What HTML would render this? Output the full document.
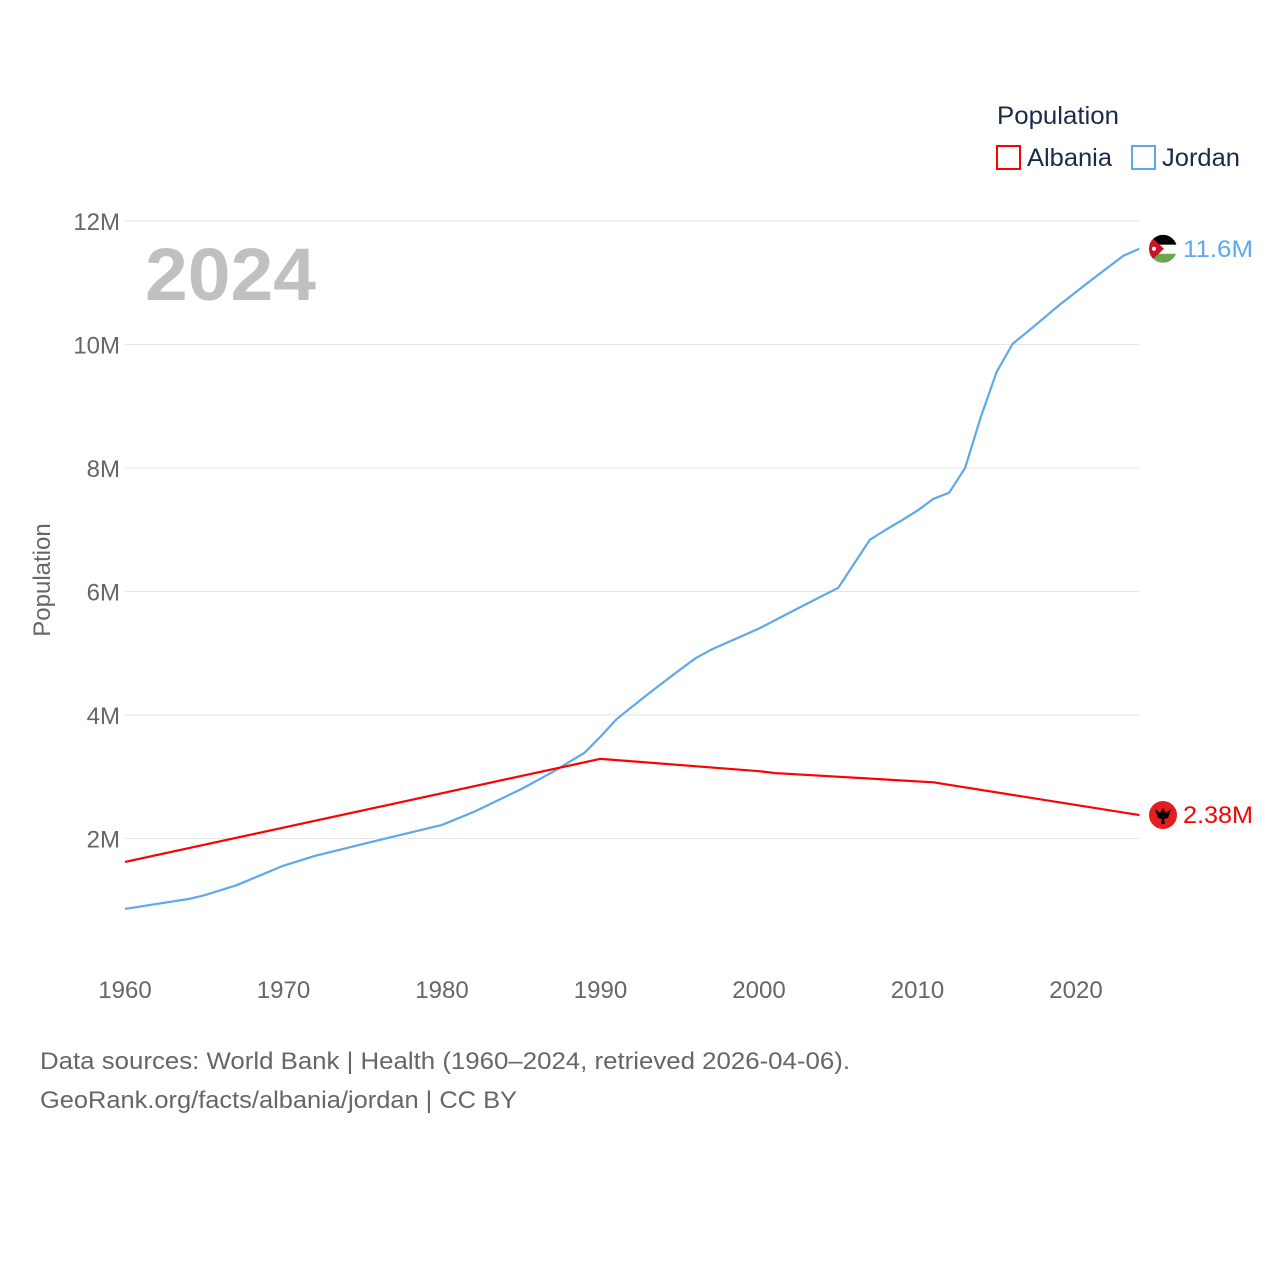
<!DOCTYPE html>
<html><head><meta charset="utf-8"><style>
body{margin:0;background:#fff;font-family:"Liberation Sans",sans-serif}
svg text{font-family:"Liberation Sans",sans-serif}
</style></head><body>
<svg id="chart" width="1280" height="1280" viewBox="0 0 1280 1280">
<text x="997" y="124" font-size="25" fill="#1a2b4a" textLength="122" lengthAdjust="spacingAndGlyphs">Population</text>
<g><rect x="997" y="146" width="23" height="23" fill="none" stroke="#ff0000" stroke-width="2"/><text x="1027" y="166" font-size="25" fill="#1a2b4a" textLength="85" lengthAdjust="spacingAndGlyphs">Albania</text></g>
<g><rect x="1132" y="146" width="23" height="23" fill="none" stroke="#5ea8ec" stroke-width="2"/><text x="1162" y="166" font-size="25" fill="#1a2b4a" textLength="78" lengthAdjust="spacingAndGlyphs">Jordan</text></g>
<text x="145" y="300" font-size="74" font-weight="bold" fill="#c0c0c0" textLength="171" lengthAdjust="spacingAndGlyphs">2024</text>
<text transform="translate(50,580) rotate(-90)" text-anchor="middle" font-size="24" fill="#666">Population</text>
<g id="grid"></g><g id="series"></g>
<text x="40" y="1069" font-size="24" fill="#666" textLength="810" lengthAdjust="spacingAndGlyphs">Data sources: World Bank | Health (1960–2024, retrieved 2026-04-06).</text>
<text x="40" y="1108" font-size="24" fill="#666" textLength="477" lengthAdjust="spacingAndGlyphs">GeoRank.org/facts/albania/jordan | CC BY</text>
</svg>
<script>
const yTicks=[2,4,6,8,10,12];
const xTicks=[1960,1970,1980,1990,2000,2010,2020];
const albYears=[1960,1990,2000,2001,2011,2024];
const albVals=[1.62,3.29,3.09,3.06,2.91,2.38];
const jorYears=[1960,1962,1964,1965,1967,1970,1972,1975,1980,1982,1985,1987,1989,1990,1991,1993,1995,1996,1997,2000,2003,2005,2007,2008,2009,2010,2011,2012,2013,2014,2015,2016,2017,2019,2021,2023,2024];
const jorVals=[0.86,0.94,1.02,1.08,1.24,1.56,1.72,1.91,2.22,2.43,2.80,3.08,3.39,3.65,3.93,4.34,4.73,4.92,5.06,5.40,5.80,6.06,6.84,7.00,7.15,7.31,7.50,7.60,8.00,8.83,9.56,10.01,10.22,10.65,11.05,11.44,11.55];
const NS="http://www.w3.org/2000/svg";
const X=y=>125+(y-1960)*(1076-125)/60;
const Y=v=>962-v*61.75;
const grid=document.getElementById('grid'),ser=document.getElementById('series');
function mk(t,a,p){const e=document.createElementNS(NS,t);for(const k in a)e.setAttribute(k,a[k]);p.appendChild(e);return e;}
yTicks.forEach(v=>{
 const l=mk('line',{x1:125,x2:1139,y1:Y(v),y2:Y(v),stroke:'#e6e6e6','stroke-width':1},grid);
 
 
 const t=mk('text',{x:120,y:Y(v)+9,'text-anchor':'end','font-size':24,fill:'#666'},grid);t.textContent=v+'M';
 
 
});
xTicks.forEach(y=>{
 const t=mk('text',{x:X(y),y:998,'text-anchor':'middle','font-size':24,fill:'#666'},grid);t.textContent=y;
 
 
});
function line(ys,vs,c,n){
 const p=mk('polyline',{points:ys.map((y,i)=>X(y)+','+Y(vs[i])).join(' '),fill:'none',stroke:c,'stroke-width':2.2,'stroke-linejoin':'round'},ser);
 
 
}
line(jorYears,jorVals,'#5ea8ec','jordan-line');
line(albYears,albVals,'#ff0000','albania-line');
const jy=Y(jorVals[jorVals.length-1]),ay=Y(albVals[albVals.length-1]);
const fj=mk('g',{},ser);


mk('clipPath',{id:'cj'},fj).appendChild(document.createElementNS(NS,'circle')).setAttribute('r',14);
document.querySelector('#cj circle').setAttribute('cx',1163);document.querySelector('#cj circle').setAttribute('cy',jy);
const gj=mk('g',{'clip-path':'url(#cj)'},fj);
mk('rect',{x:1149,y:jy-14,width:28,height:10,fill:'#000'},gj);
mk('rect',{x:1149,y:jy-4,width:28,height:9,fill:'#fff'},gj);
mk('rect',{x:1149,y:jy+5,width:28,height:10,fill:'#6aa84f'},gj);
mk('polygon',{points:`1149,${jy-14} 1164,${jy} 1149,${jy+14}`,fill:'#ce1126'},gj);
mk('circle',{cx:1154,cy:jy,r:2,fill:'#fff'},gj);
const tj=mk('text',{x:1183,y:jy+8,'font-size':24,fill:'#5ea8ec',textLength:70,lengthAdjust:'spacingAndGlyphs'},ser);tj.textContent='11.6M';


const fa=mk('g',{},ser);


mk('circle',{cx:1163,cy:ay,r:14,fill:'#e41e20'},fa);
mk('path',{d:`M1155 ${ay-6} L1160 ${ay-2} L1163 ${ay-7} L1166 ${ay-2} L1171 ${ay-6} L1168 ${ay+3} L1164 ${ay+4} L1165 ${ay+9} L1161 ${ay+9} L1162 ${ay+4} L1158 ${ay+3} Z`,fill:'#000'},fa);
const ta=mk('text',{x:1183,y:ay+8,'font-size':24,fill:'#ff0000',textLength:70,lengthAdjust:'spacingAndGlyphs'},ser);ta.textContent='2.38M';


</script>
</body></html>
